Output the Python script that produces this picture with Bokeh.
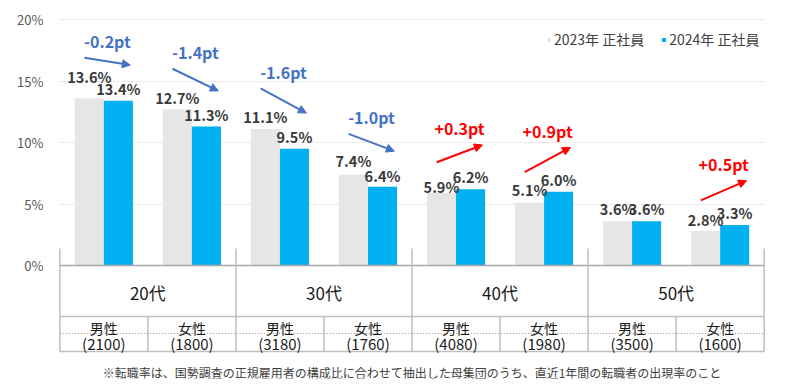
from bokeh.plotting import figure
from bokeh.models import (ColumnDataSource, Range1d, FixedTicker, Arrow, NormalHead,
                          Legend, LegendItem, Label, PrintfTickFormatter)
from bokeh.core.properties import value
from bokeh.transform import dodge
from bokeh.embed import file_html
from bokeh.resources import INLINE

# ---- data ----
age_groups = ["20代", "30代", "40代", "50代"]
sexes = ["男性", "女性"]
n_counts = [2100, 1800, 3180, 1760, 4080, 1980, 3500, 1600]
rate_2023 = [13.6, 12.7, 11.1, 7.4, 5.9, 5.1, 3.6, 2.8]
rate_2024 = [13.4, 11.3, 9.5, 6.4, 6.2, 6.0, 3.6, 3.3]
series_names = ["2023年 正社員", "2024年 正社員"]
y_ticks = [0, 5, 10, 15, 20]
footnote = "※転職率は、国勢調査の正規雇用者の構成比に合わせて抽出した母集団のうち、直近1年間の転職者の出現率のこと"

# label lift above bar tops (layout only)
lift_2023 = [1.8, 1.0, 1.0, 1.1, 0.5, 1.1, 1.0, 0.9]
lift_2024 = [1.0, 1.0, 1.0, 0.9, 1.0, 1.0, 1.0, 1.0]

FONT = "Noto Sans CJK JP"
GRAY = "#E6E6E6"
BLUE = "#00B0F0"
DOWN = "#4472C4"
UP = "#FF0000"
LINE = "#bfbfbf"

n_sub = len(rate_2023)
xs = [i + 0.5 for i in range(n_sub)]

p = figure(width=784, height=384, output_backend="svg", toolbar_location=None,
           x_range=Range1d(-0.015, n_sub + 0.015), y_range=Range1d(-9.19, 20.9),
           x_axis_location=None, min_border_left=58, min_border_right=19,
           min_border_top=8, min_border_bottom=6)
p.outline_line_color = None
p.xgrid.visible = False
p.ygrid.grid_line_color = "#ececec"
p.ygrid.grid_line_width = 1
p.yaxis.ticker = FixedTicker(ticks=y_ticks)
p.yaxis.formatter = PrintfTickFormatter(format="%d%%")
p.yaxis.axis_line_color = None
p.yaxis.major_tick_line_color = None
p.yaxis.minor_tick_line_color = None
p.yaxis.major_label_text_font = FONT
p.yaxis.major_label_text_font_size = "13px"
p.yaxis.major_label_text_color = "#595959"
p.yaxis.major_label_standoff = 9

src = ColumnDataSource(dict(
    x=xs, g=rate_2023, b=rate_2024,
    gy=[v + l for v, l in zip(rate_2023, lift_2023)],
    by=[v + l for v, l in zip(rate_2024, lift_2024)],
    gl=[f"{v:.1f}%" for v in rate_2023],
    bl=[f"{v:.1f}%" for v in rate_2024],
))

BW = 0.33
r1 = p.vbar(x=dodge("x", -BW / 2, range=p.x_range), top="g", bottom=0, width=BW,
            source=src, fill_color=GRAY, line_color=None)
r2 = p.vbar(x=dodge("x", BW / 2, range=p.x_range), top="b", bottom=0, width=BW,
            source=src, fill_color=BLUE, line_color=None)

lab_kw = dict(source=src, text_align="center", text_baseline="middle",
              text_font=value(FONT), text_font_size="14.5px", text_color="#3a3a3a",
              text_font_style="bold")
p.text(x=dodge("x", -BW / 2, range=p.x_range), y="gy", text="gl", **lab_kw)
p.text(x=dodge("x", BW / 2, range=p.x_range), y="by", text="bl", **lab_kw)

# ---- change arrows ----
for sign, color in ((-1, DOWN), (1, UP)):
    idx = [i for i in range(n_sub)
           if (rate_2024[i] - rate_2023[i]) * sign > 0.001]
    if sign < 0:
        y0 = [rate_2023[i] + 3.3 for i in idx]
        y1 = [rate_2024[i] + 2.9 for i in idx]
    else:
        y0 = [rate_2023[i] + 2.5 for i in idx]
        y1 = [rate_2024[i] + 3.6 for i in idx]
    asrc = ColumnDataSource(dict(
        x0=[xs[i] - 0.22 for i in idx], x1=[xs[i] + 0.3 for i in idx],
        y0=y0, y1=y1,
        tx=[xs[i] + 0.04 for i in idx],
        ty=[max(a, b) + 1.35 for a, b in zip(y0, y1)],
        t=[f"{rate_2024[i] - rate_2023[i]:+.1f}pt" for i in idx],
    ))
    p.add_layout(Arrow(source=asrc, x_start="x0", y_start="y0", x_end="x1", y_end="y1",
                       line_color=color, line_width=2,
                       end=NormalHead(size=8, fill_color=color, line_color=color, line_width=1)))
    p.text(x="tx", y="ty", text="t", source=asrc, text_align="center",
           text_baseline="middle", text_font=value(FONT), text_font_size="16px",
           text_color=color, text_font_style="bold")

# ---- table below the bars ----
ROW1 = -4.15
ROW2 = -6.99
DOT = -5.53
p.segment(x0=[0], y0=[0], x1=[n_sub], y1=[0], line_color="#a6a6a6", line_width=1.5)
p.segment(x0=[0, 0], y0=[ROW1, ROW2], x1=[n_sub, n_sub], y1=[ROW1, ROW2],
          line_color=LINE, line_width=1.5)
gx = list(range(0, n_sub + 1, 2))
p.segment(x0=gx, y0=[1.38] * len(gx), x1=gx, y1=[ROW2] * len(gx),
          line_color=LINE, line_width=1.5)
sx = list(range(1, n_sub, 2))
p.segment(x0=sx, y0=[ROW1] * len(sx), x1=sx, y1=[ROW2] * len(sx),
          line_color=LINE, line_width=1.5)
p.segment(x0=[0], y0=[DOT], x1=[n_sub], y1=[DOT], line_color="#909090",
          line_width=1, line_dash="1 2")

p.text(x=[2 * k + 1 for k in range(len(age_groups))], y=[-2.2] * len(age_groups),
       text=age_groups, text_align="center", text_baseline="middle",
       text_font=value(FONT), text_font_size="17px", text_color="#1a1a1a")
p.text(x=xs, y=[-5.1] * n_sub, text=[sexes[i % 2] for i in range(n_sub)],
       text_align="center", text_baseline="middle", text_font=value(FONT),
       text_font_size="14px", text_color="#1a1a1a")
p.text(x=xs, y=[-6.34] * n_sub, text=[f"({n})" for n in n_counts],
       text_align="center", text_baseline="middle", text_font=value(FONT),
       text_font_size="15px", text_color="#1a1a1a")

p.add_layout(Label(x=0, y=-6.34, x_offset=-5, text="n=", text_align="right",
                   text_baseline="middle", text_font=FONT, text_font_size="11px",
                   text_color="#595959"))
p.add_layout(Label(x=n_sub / 2, y=-8.7, text=footnote, text_align="center",
                   text_baseline="middle", text_font=FONT, text_font_size="12px",
                   text_color="#404040"))

legend = Legend(items=[LegendItem(label=series_names[0], renderers=[r1]),
                       LegendItem(label=series_names[1], renderers=[r2])],
                orientation="horizontal", location=(488, 329),
                glyph_width=5, glyph_height=5, label_standoff=3, spacing=17,
                padding=0, margin=0, label_height=14,
                label_text_font=FONT, label_text_font_size="14px",
                label_text_color="#404040", border_line_color=None,
                background_fill_alpha=0)
p.add_layout(legend)

open("out.html", "w").write(file_html(p, INLINE))
